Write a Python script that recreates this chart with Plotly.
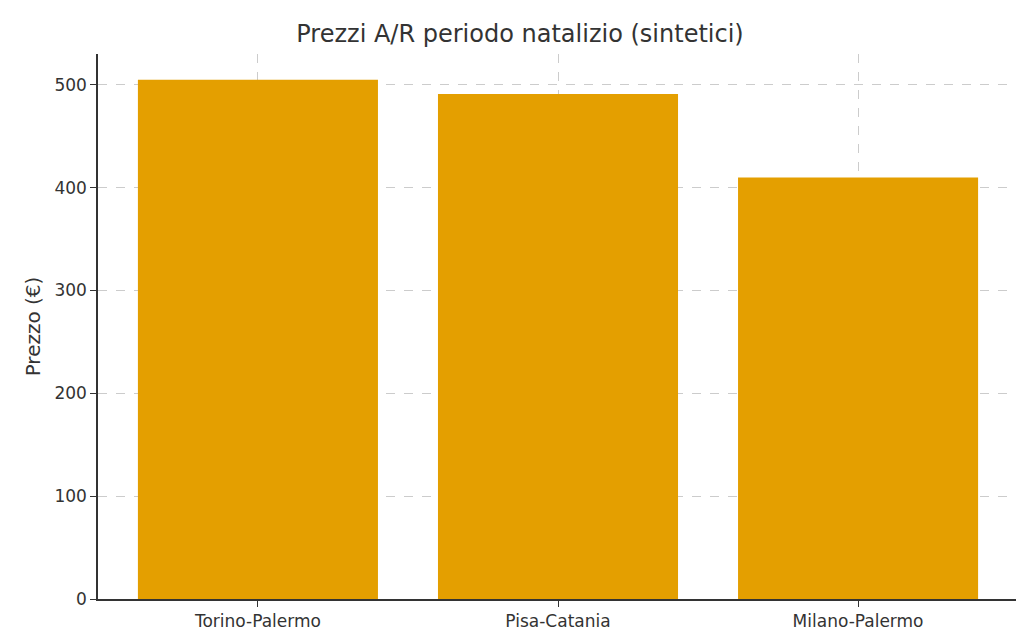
import plotly.graph_objects as go

routes = ['Torino-Palermo', 'Pisa-Catania', 'Milano-Palermo']
prices = [505, 491, 410]

fig = go.Figure(go.Bar(x=routes, y=prices, marker={'color': '#E49F00', 'line': {'width': 0}}, width=0.8))

grid = {'showgrid': True, 'gridcolor': '#cccccc', 'griddash': 'dash', 'gridwidth': 1}
fig.update_layout(
    width=1024, height=635,
    paper_bgcolor='white', plot_bgcolor='white',
    margin=dict(l=90, r=14, t=46, b=41),
    font=dict(family='DejaVu Sans', size=17, color='#333333'),
    title=dict(text='Prezzi A/R periodo natalizio (sintetici)', x=0.5, xanchor='center',
               y=0.96, yanchor='middle', font=dict(size=24)),
    showlegend=False,
    xaxis=dict(range=[-0.533, 2.533], showline=True, linecolor='#333333', linewidth=1.5,
               ticks='outside', ticklen=6, tickcolor='#333333', **grid),
    yaxis=dict(range=[0, 530], dtick=100, showline=True, linecolor='#333333', linewidth=1.5,
               ticks='outside', ticklen=6, tickcolor='#333333', zeroline=False,
               title=dict(text='Prezzo (€)', standoff=8), **grid),
)
fig.write_html('out.html')
